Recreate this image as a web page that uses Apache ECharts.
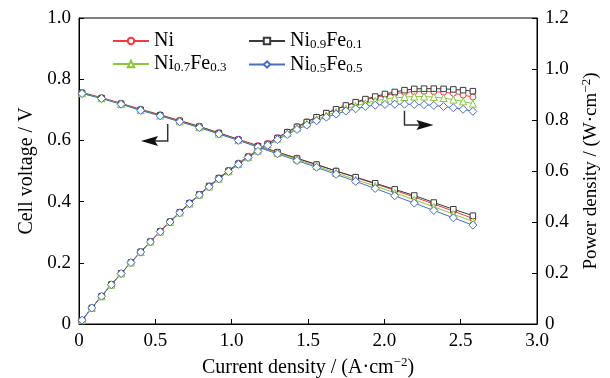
<!DOCTYPE html>
<html><head><meta charset="utf-8">
<script src="https://cdn.jsdelivr.net/npm/echarts@6/dist/echarts.min.js"></script>
<style>html,body{margin:0;padding:0;background:#fff}#c{width:610px;height:378px}</style>
</head><body><div id="c"></div>
<script>
const seriesNames = ['Ni', 'Ni0.9Fe0.1', 'Ni0.7Fe0.3', 'Ni0.5Fe0.5'];
const legendLabels = ['Ni', 'Ni{sub|0.9}Fe{sub|0.1}', 'Ni{sub|0.7}Fe{sub|0.3}', 'Ni{sub|0.5}Fe{sub|0.5}'];
const xTicks = ['0', '0.5', '1.0', '1.5', '2.0', '2.5', '3.0'];

// current density (A/cm2) for voltage curves and power curves
const currentV = [0.02,0.148,0.276,0.404,0.532,0.66,0.788,0.916,1.044,1.172,1.3,1.428,1.556,1.684,1.812,1.94,2.068,2.196,2.324,2.452,2.58];
const currentP = [0.02,0.084,0.148,0.212,0.276,0.34,0.404,0.468,0.532,0.596,0.66,0.724,0.788,0.852,0.916,0.98,1.044,1.108,1.172,1.236,1.3,1.364,1.428,1.492,1.556,1.62,1.684,1.748,1.812,1.876,1.94,2.004,2.068,2.132,2.196,2.26,2.324,2.388,2.452,2.516,2.58];

// cell voltage (V)
const voltNi     = [0.757,0.740,0.721,0.702,0.684,0.665,0.646,0.625,0.604,0.583,0.562,0.542,0.521,0.500,0.479,0.458,0.437,0.415,0.392,0.369,0.345];
const voltNi9Fe1 = [0.755,0.738,0.720,0.700,0.682,0.664,0.645,0.624,0.602,0.581,0.561,0.541,0.521,0.500,0.480,0.460,0.440,0.420,0.397,0.375,0.354];
const voltNi7Fe3 = [0.754,0.738,0.719,0.699,0.681,0.662,0.643,0.622,0.601,0.580,0.559,0.538,0.516,0.494,0.472,0.451,0.429,0.406,0.383,0.359,0.335];
const voltNi5Fe5 = [0.753,0.737,0.718,0.698,0.680,0.661,0.642,0.621,0.600,0.578,0.556,0.534,0.512,0.489,0.466,0.443,0.419,0.395,0.371,0.347,0.323];

// power density (W/cm2)
const powNi     = [0.015,0.063,0.110,0.155,0.199,0.242,0.284,0.324,0.364,0.402,0.439,0.475,0.509,0.541,0.573,0.602,0.631,0.658,0.683,0.708,0.731,0.753,0.774,0.793,0.811,0.827,0.842,0.856,0.868,0.879,0.889,0.897,0.904,0.908,0.911,0.912,0.911,0.909,0.905,0.898,0.890];
const powNi9Fe1 = [0.015,0.063,0.109,0.155,0.199,0.241,0.283,0.323,0.363,0.401,0.438,0.474,0.508,0.541,0.572,0.601,0.628,0.655,0.681,0.706,0.729,0.752,0.773,0.792,0.811,0.827,0.842,0.857,0.870,0.882,0.892,0.902,0.910,0.917,0.922,0.923,0.923,0.922,0.920,0.917,0.913];
const powNi7Fe3 = [0.015,0.063,0.109,0.154,0.198,0.241,0.282,0.323,0.362,0.400,0.437,0.472,0.507,0.539,0.570,0.599,0.627,0.654,0.680,0.704,0.727,0.748,0.768,0.786,0.803,0.818,0.832,0.844,0.855,0.866,0.875,0.882,0.887,0.890,0.892,0.892,0.890,0.886,0.880,0.873,0.864];
const powNi5Fe5 = [0.015,0.063,0.109,0.154,0.198,0.241,0.282,0.322,0.362,0.400,0.436,0.472,0.506,0.538,0.569,0.598,0.626,0.653,0.677,0.701,0.723,0.743,0.763,0.780,0.797,0.811,0.823,0.835,0.844,0.853,0.858,0.861,0.862,0.862,0.861,0.860,0.857,0.853,0.848,0.842,0.834];

const voltData = [voltNi, voltNi9Fe1, voltNi7Fe3, voltNi5Fe5];
const powData = [powNi, powNi9Fe1, powNi7Fe3, powNi5Fe5];
const colors = ['#ee3b45', '#3a3a3a', '#8cc63f', '#4a6fbf'];
const symbols = ['circle', 'rect', 'triangle', 'diamond'];
const symbolSizes = [6, 5.5, 7, 8];

const FONT = '"Liberation Serif", "Times New Roman", Times, serif';
const pair = (xs, ys) => xs.map((x, i) => [x, ys[i]]);

const series = [];
seriesNames.forEach((n, k) => {
  const common = {
    name: n, type: 'line', symbol: symbols[k], symbolSize: symbolSizes[k],
    itemStyle: { color: '#fff', borderColor: colors[k], borderWidth: 1 },
    lineStyle: { color: colors[k], width: 1 },
    emphasis: { disabled: true }, animation: false
  };
  series.push(Object.assign({}, common, { yAxisIndex: 0, data: pair(currentV, voltData[k]) }));
  series.push(Object.assign({}, common, { yAxisIndex: 1, data: pair(currentP, powData[k]) }));
});

const legendRich = { sub: { fontSize: 13, fontFamily: FONT, padding: [8, 0, 0, 0], color: '#000' } };
const mkLegend = (names, left) => ({
  orient: 'vertical', left: left, top: 26, itemGap: 3, itemWidth: 36, itemHeight: 8,
  data: names, selectedMode: false,
  formatter: n => legendLabels[seriesNames.indexOf(n)],
  textStyle: { fontFamily: FONT, fontSize: 20, color: '#000', rich: legendRich }
});

const axisLabel = { fontFamily: FONT, fontSize: 19, color: '#000' };
const supRich = { sup: { fontSize: 13, fontFamily: FONT, padding: [0, 0, 10, 0], color: '#000' } };

const chart = echarts.init(document.getElementById('c'));
chart.setOption({
  animation: false,
  backgroundColor: '#fff',
  textStyle: { fontFamily: FONT },
  grid: { left: 79, right: 73, top: 18, bottom: 54, containLabel: false, outerBoundsMode: 'none',
          show: true, borderColor: '#000', borderWidth: 1 },
  legend: [mkLegend([seriesNames[0], seriesNames[2]], 107), mkLegend([seriesNames[1], seriesNames[3]], 243)],
  xAxis: {
    type: 'value', min: 0, max: 3, interval: 0.5,
    axisLine: { lineStyle: { color: '#000' } },
    axisTick: { inside: true, length: 5, lineStyle: { color: '#000' } },
    splitLine: { show: false },
    axisLabel: Object.assign({ margin: 8, formatter: v => xTicks[Math.round(v / 0.5)] }, axisLabel),
    name: 'Current density / (A·cm{sup|−2})', nameLocation: 'middle', nameGap: 31,
    nameTextStyle: { fontFamily: FONT, fontSize: 20, color: '#000', rich: supRich }
  },
  yAxis: [{
    type: 'value', min: 0, max: 1, interval: 0.2,
    axisLine: { show: true, lineStyle: { color: '#000' } },
    axisTick: { show: true, inside: true, length: 5, lineStyle: { color: '#000' } },
    splitLine: { show: false },
    axisLabel: Object.assign({ margin: 8, formatter: v => v === 0 ? '0' : v.toFixed(1) }, axisLabel),
    name: 'Cell voltage / V', nameLocation: 'middle', nameGap: 41, nameRotate: 90,
    nameTextStyle: { fontFamily: FONT, fontSize: 20, color: '#000' }
  }, {
    type: 'value', min: 0, max: 1.2, interval: 0.2, position: 'right',
    axisLine: { show: true, lineStyle: { color: '#000' } },
    axisTick: { show: true, inside: true, length: 5, lineStyle: { color: '#000' } },
    splitLine: { show: false },
    axisLabel: Object.assign({ margin: 8, formatter: v => v === 0 ? '0' : v.toFixed(1) }, axisLabel),
    name: 'Power density / (W·cm{sup|−2})', nameLocation: 'middle', nameGap: 41, nameRotate: 90,
    nameTextStyle: { fontFamily: FONT, fontSize: 19, color: '#000', rich: supRich }
  }],
  series: series
});

// annotation arrows (positioned in data coordinates)
const leftArrow = { xAxisIndex: 0, yAxisIndex: 0, top: [0.581, 0.654], corner: [0.581, 0.598], tip: [0.406, 0.598] };
const rightArrow = { xAxisIndex: 0, yAxisIndex: 1, top: [2.132, 0.836], corner: [2.132, 0.780], tip: [2.322, 0.780] };
function arrowGraphics(a) {
  const f = { xAxisIndex: a.xAxisIndex, yAxisIndex: a.yAxisIndex };
  const p1 = chart.convertToPixel(f, a.top), p2 = chart.convertToPixel(f, a.corner), p3 = chart.convertToPixel(f, a.tip);
  const dir = Math.sign(p3[0] - p2[0]);
  const headLen = 14, headHalf = 5;
  const base = [p3[0] - dir * headLen, p3[1]];
  return [
    { type: 'polyline', shape: { points: [p1, p2, base] }, style: { stroke: '#333', lineWidth: 1.5, fill: null }, silent: true },
    { type: 'polygon', shape: { points: [p3, [base[0] - dir * 3, p3[1] - headHalf], base, [base[0] - dir * 3, p3[1] + headHalf]] }, style: { fill: '#111' }, silent: true }
  ];
}
chart.setOption({ graphic: arrowGraphics(leftArrow).concat(arrowGraphics(rightArrow)) });
</script></body></html>
